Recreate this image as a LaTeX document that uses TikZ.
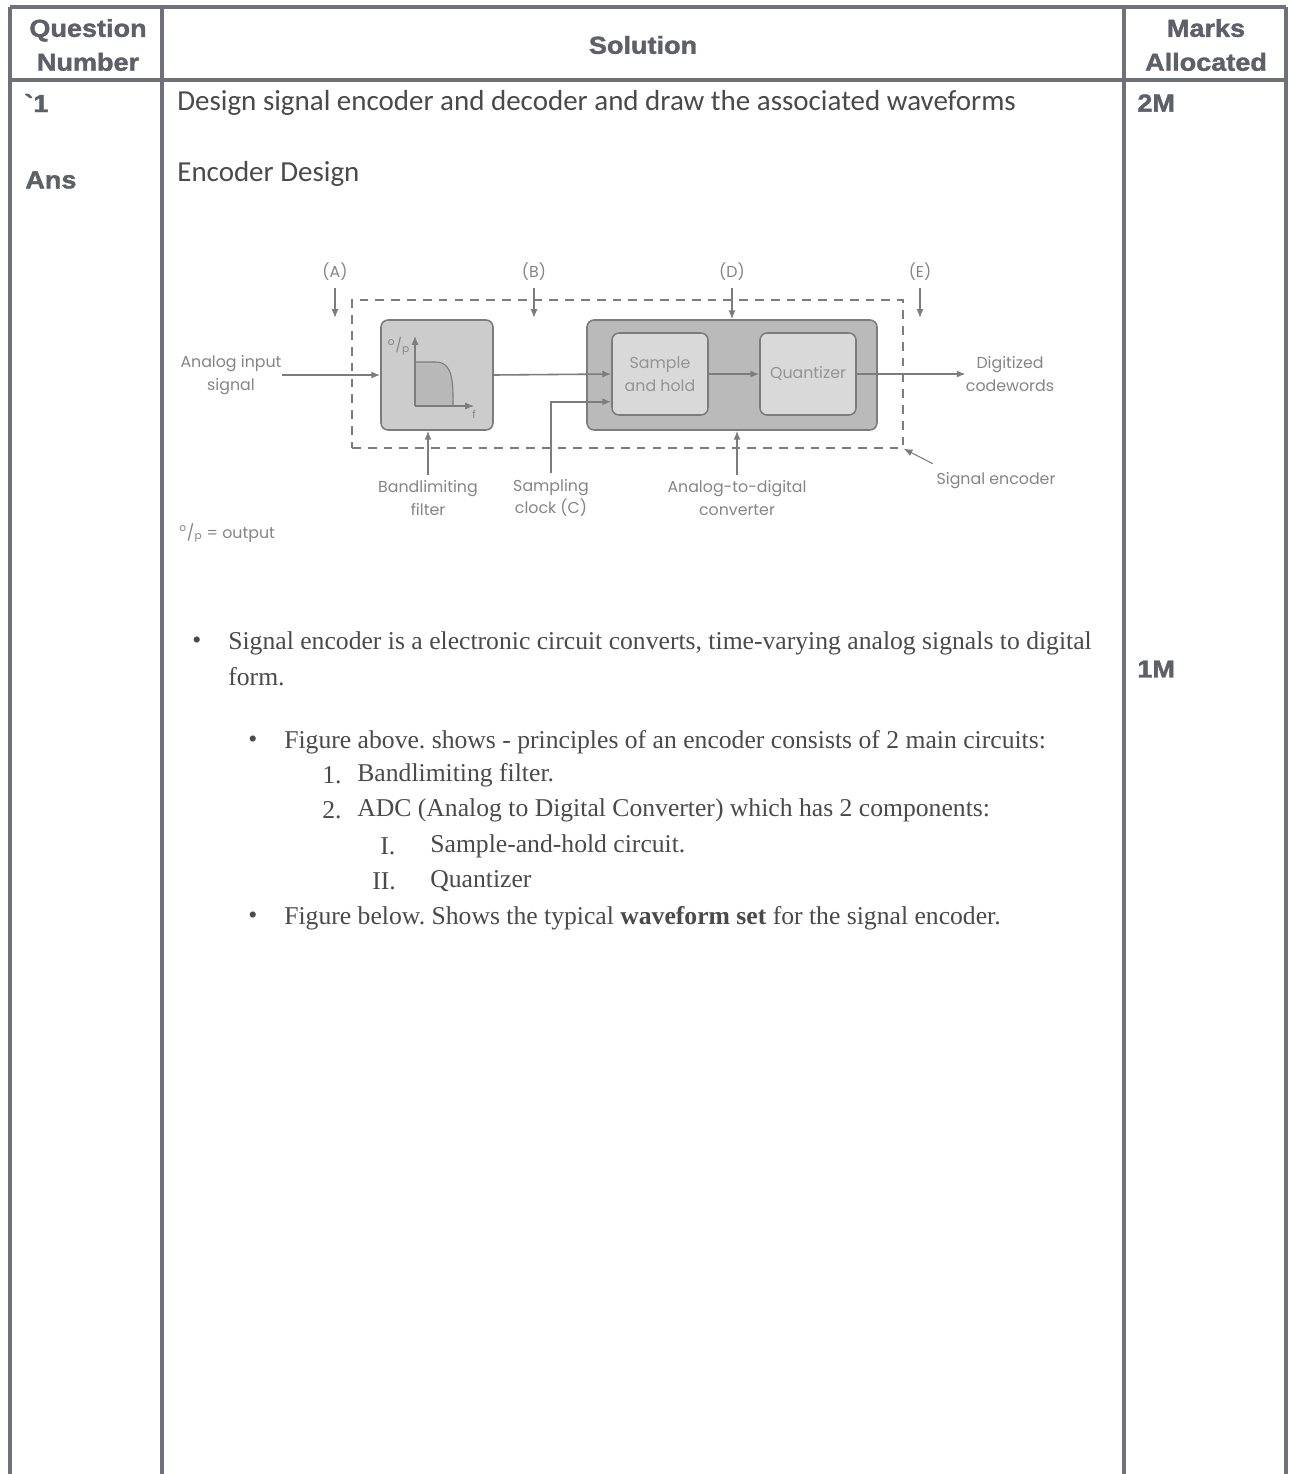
\documentclass[tikz,border=0pt]{standalone}
\usepackage{fontspec}
\usepackage{xcolor}
\usetikzlibrary{arrows.meta, positioning, calc}
\setmainfont{Liberation Serif}
\newfontfamily\headfont[FakeStretch=1.1, BoldFeatures={FakeBold=1.5}]{Liberation Sans}
\newfontfamily\calfont{Carlito}
\newfontfamily\figfont{Poppins}
\definecolor{rulegrey}{HTML}{6E717B}
\definecolor{headtext}{HTML}{5E6069}
\definecolor{bodytext}{HTML}{4A4A4A}
\definecolor{figline}{HTML}{7C7C7C}
\definecolor{figtext}{HTML}{858585}
\frenchspacing

\begin{document}
\begin{tikzpicture}[
    x=0.02cm, y=-0.02cm,
    rule/.style={line width=2.2pt, color=rulegrey},
    head/.style={font=\headfont\bfseries\fontsize{14pt}{19.3pt}\selectfont,
                 text=headtext, align=center, inner sep=0pt},
    cal/.style={font=\calfont\fontsize{16.5pt}{19pt}\selectfont,
                text=bodytext, anchor=west, inner sep=0pt},
    txt/.style={font=\fontsize{14.6pt}{19pt}\selectfont,
                text=bodytext, anchor=west, inner sep=0pt},
    figlabel/.style={font=\figfont\fontsize{9pt}{13pt}\selectfont,
                     text=figtext, align=center, inner sep=0pt},
    blk/.style={rectangle, draw=figline, fill=#1, rounded corners=4pt,
                line width=0.9pt},
    encbox/.style={rectangle, draw=figline, dashed, dash pattern=on 5pt off 4pt,
                   line width=0.8pt},
    arrow/.style={-{Latex[length=5pt, width=4pt]}, line width=0.9pt, color=figline}
]
\fill[white] (0,0) rectangle (1290,1474);
\useasboundingbox (0,0) rectangle (1290,1474);

% Table rules
\draw[rule] (10,7) -- (1286,7);
\draw[rule] (10,80) -- (1286,80);
\draw[rule] (10,7) -- (10,1474);
\draw[rule] (162,7) -- (162,1474);
\draw[rule] (1124,7) -- (1124,1474);
\draw[rule] (1286,7) -- (1286,1474);

% Header
\node[head] (qnum) at (88,45) {Question\\Number};
\node[head] (sol) at (643,45) {Solution};
\node[head] (marks) at (1206,45) {Marks\\Allocated};

% First column and marks
\node[head, anchor=west] (qone) at (24,103) {`1};
\node[head, anchor=west] (ans) at (25,180) {Ans};
\node[head, anchor=west] (mtwo) at (1137,103) {2M};
\node[head, anchor=west] (mone) at (1137,669) {1M};

% Solution text
\node[cal] (quest) at (177,103) {Design signal encoder and decoder and draw the associated waveforms};
\node[cal] (encdes) at (177,174) {Encoder Design};

% Signal encoder (dashed)
\node[encbox, minimum width=11.02cm, minimum height=2.96cm] (enc) at (627.5,374) {};

% Blocks
\node[blk=black!20, minimum width=2.24cm, minimum height=2.2cm] (filter) at (437,375) {};
\node[blk=black!27, minimum width=5.8cm, minimum height=2.2cm] (adc) at (732,375) {};
\node[blk=black!15, minimum width=1.92cm, minimum height=1.64cm, figlabel,
      text=black!42] (sh) at (660,374) {Sample\\and hold};
\node[blk=black!15, minimum width=1.92cm, minimum height=1.64cm, figlabel,
      text=black!42] (quant) at (808,374) {Quantizer};

% Filter response
\fill[black!28] (415,406) -- (415,362) -- (436,362) to[out=0, in=90] (453,406) -- cycle;
\draw[figline, line width=0.6pt] (415,362) -- (436,362) to[out=0, in=90] (453,406);
\draw[arrow, line width=0.7pt] (415,406) -- (415,336);
\draw[arrow, line width=0.7pt] (415,406) -- (474,406);
\node[figlabel, font=\figfont\fontsize{8pt}{9pt}\selectfont] (op) at (399,346) {\textsuperscript{o}/\textsubscript{p}};
\node[figlabel, font=\figfont\fontsize{6pt}{7pt}\selectfont] (fax) at (474,414) {f};

% Outside labels
\node[figlabel] (ain) at (231,375) {Analog input\\signal};
\node[figlabel] (dout) at (1010,374) {Digitized\\codewords};
\node[figlabel] (lbla) at (335,272) {(A)};
\node[figlabel] (lblb) at (534,272) {(B)};
\node[figlabel] (lbld) at (732,272) {(D)};
\node[figlabel] (lble) at (920,272) {(E)};
\node[figlabel] (bfl) at (428,498) {Bandlimiting\\filter};
\node[figlabel] (clk) at (551,498) {Sampling\\clock (C)};
\node[figlabel] (adcl) at (737,498) {Analog-to-digital\\converter};
\node[figlabel] (encl) at (996,481) {Signal encoder};
\node[figlabel, anchor=west] (leg) at (179,533) {\textsuperscript{o}/\textsubscript{p} = output};

\coordinate (ta) at (335,318);
\coordinate (tb) at (534,318);
\coordinate (te) at (920,318);

% Arrows
\draw[arrow] (ain.east) -- (filter.west);
\draw[arrow] (filter.east) -- (sh.west);
\draw[arrow] (sh.east) -- (quant.west);
\draw[arrow] (quant.east) -- (dout.west);
\draw[arrow] ([yshift=-4pt]lbla.south) -- (ta);
\draw[arrow] ([yshift=-4pt]lblb.south) -- (tb);
\draw[arrow] ([yshift=-4pt]lbld.south) -- (adc.north);
\draw[arrow] ([yshift=-4pt]lble.south) -- (te);
\draw[arrow] ([yshift=3pt]bfl.north) -- (bfl.north |- filter.south);
\draw[arrow] ([yshift=3pt]clk.north) |- ([yshift=8pt]sh.south west);
\draw[arrow] ([yshift=3pt]adcl.north) -- (adcl.north |- adc.south);
\draw[arrow, line width=0.6pt] ([shift={(-2pt,5pt)}]encl.north west) -- (enc.south east);

% Notes
\node[txt] (b1) at (192,643) {\textbullet};
\node[txt] (n1) at (228,643) {Signal encoder is a electronic circuit converts, time-varying analog signals to digital};
\node[txt] (n1b) at (228,677) {form.};
\node[txt] (b2) at (248,742) {\textbullet};
\node[txt] (n2) at (284,742) {Figure above. shows - principles of an encoder consists of 2 main circuits:};
\node[txt] (i1) at (322,775) {1.};
\node[txt] (n3) at (357,775) {Bandlimiting filter.};
\node[txt] (i2) at (322,810) {2.};
\node[txt] (n4) at (357,810) {ADC (Analog to Digital Converter) which has 2 components:};
\node[txt] (r1) at (380,846) {I.};
\node[txt] (n5) at (430,846) {Sample-and-hold circuit.};
\node[txt] (r2) at (372,881) {II.};
\node[txt] (n6) at (430,881) {Quantizer};
\node[txt] (b3) at (248,918) {\textbullet};
\node[txt] (n7) at (284,918) {Figure below. Shows the typical \textbf{waveform set} for the signal encoder.};

\end{tikzpicture}
\end{document}
